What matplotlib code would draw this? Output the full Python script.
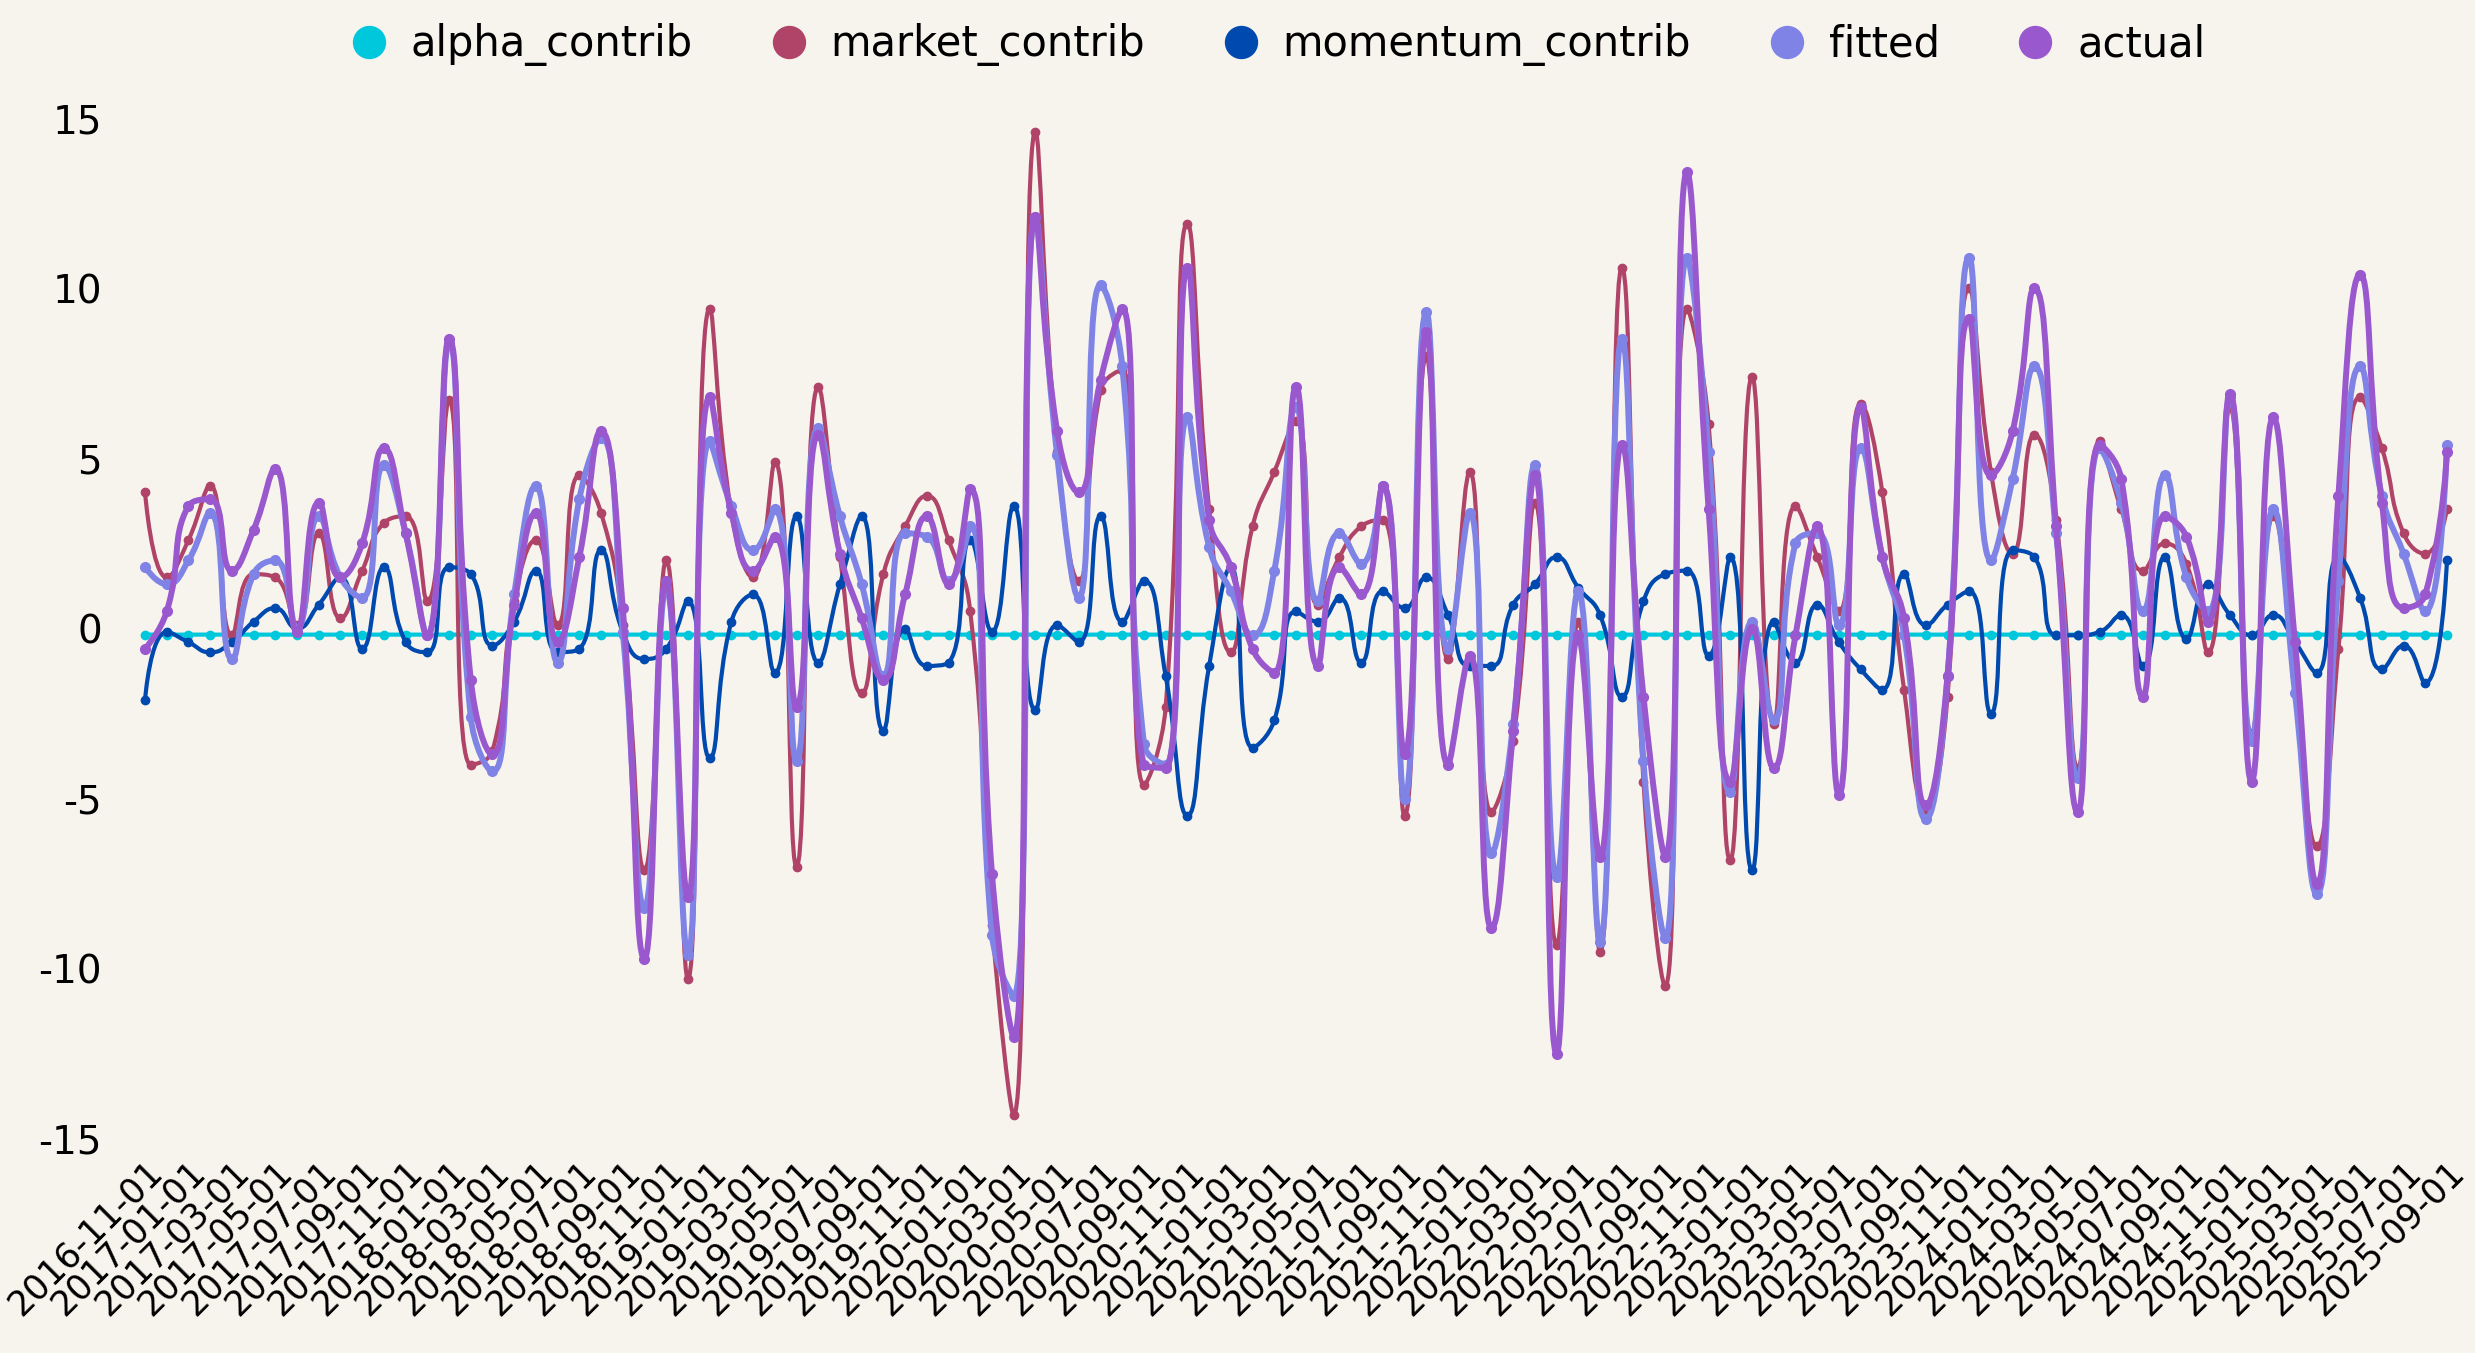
import numpy as np
import pandas as pd
import matplotlib
matplotlib.use('Agg')
import matplotlib.pyplot as plt
import matplotlib.transforms as mtransforms
from matplotlib.path import Path
from matplotlib.patches import PathPatch
from matplotlib.lines import Line2D

plt.rcParams['font.family'] = ['DejaVu Sans']
plt.rcParams['axes.unicode_minus'] = False

# monthly dates, 2016-11 .. 2025-09
dates = pd.date_range('2016-11-01', '2025-09-01', freq='MS').strftime('%Y-%m-%d').tolist()

alpha_contrib = [-0.18] * len(dates)

market_contrib = [
    4.0, 1.5, 2.6, 4.2, -0.2, 1.6, 1.5, 0.1, 2.8, 0.3,
    1.7, 3.1, 3.3, 0.8, 6.7, -4.0, -3.6, 0.8, 2.6, 0.1,
    4.5, 3.4, 0.1, -7.1, 2.0, -10.3, 9.4, 3.4, 1.5, 4.9,
    -7.0, 7.1, 2.1, -1.9, 1.6, 3.0, 3.9, 2.6, 0.5, -8.7,
    -14.3, 14.6, 5.2, 1.4, 7.0, 7.6, -4.6, -2.3, 11.9, 3.5,
    -0.7, 3.0, 4.6, 6.1, 0.7, 2.1, 3.0, 3.2, -5.5, 8.0,
    -0.9, 4.6, -5.4, -3.3, 3.7, -9.3, 0.2, -9.5, 10.6, -4.5,
    -10.5, 9.4, 6.0, -6.8, 7.4, -2.8, 3.6, 2.1, 0.5, 6.6,
    4.0, -1.8, -5.3, -2.0, 10.0, 4.6, 2.2, 5.7, 3.2, -4.1,
    5.5, 3.5, 1.7, 2.5, 1.9, -0.7, 6.5, -3.1, 3.3, -1.4,
    -6.4, -0.6, 6.8, 5.3, 2.8, 2.2, 3.5,
]

momentum_contrib = [
    -2.1, -0.1, -0.4, -0.7, -0.4, 0.2, 0.6, 0.0, 0.7, 1.5,
    -0.6, 1.8, -0.4, -0.7, 1.8, 1.6, -0.5, 0.2, 1.7, -0.7,
    -0.6, 2.3, -0.1, -0.9, -0.6, 0.8, -3.8, 0.2, 1.0, -1.3,
    3.3, -1.0, 1.3, 3.3, -3.0, 0.0, -1.1, -1.0, 2.6, -0.1,
    3.6, -2.4, 0.1, -0.4, 3.3, 0.2, 1.4, -1.4, -5.5, -1.1,
    1.8, -3.5, -2.7, 0.5, 0.2, 0.9, -1.0, 1.1, 0.6, 1.5,
    0.4, -1.1, -1.1, 0.7, 1.3, 2.1, 1.2, 0.4, -2.0, 0.8,
    1.6, 1.7, -0.8, 2.1, -7.1, 0.2, -1.0, 0.7, -0.4, -1.2,
    -1.8, 1.6, 0.1, 0.7, 1.1, -2.5, 2.3, 2.1, -0.2, -0.2,
    -0.1, 0.4, -1.1, 2.1, -0.3, 1.3, 0.4, -0.2, 0.4, -0.4,
    -1.3, 2.1, 0.9, -1.2, -0.5, -1.6, 2.0,
]

fitted = [
    1.8, 1.3, 2.0, 3.4, -0.9, 1.6, 2.0, 0.0, 3.3, 1.5,
    0.9, 4.8, 2.8, -0.2, 8.4, -2.6, -4.2, 1.0, 4.2, -1.0,
    3.8, 5.6, -0.1, -8.2, 1.2, -9.6, 5.5, 3.6, 2.3, 3.5,
    -3.9, 5.9, 3.3, 1.3, -1.4, 2.8, 2.7, 1.4, 3.0, -9.0,
    -10.8, 12.1, 5.1, 0.9, 10.1, 7.7, -3.4, -4.0, 6.2, 2.4,
    1.1, -0.2, 1.7, 6.5, 0.8, 2.8, 1.9, 4.2, -5.0, 9.3,
    -0.6, 3.4, -6.6, -2.8, 4.8, -7.3, 1.1, -9.2, 8.5, -3.9,
    -9.1, 10.9, 5.2, -4.8, 0.2, -2.7, 2.5, 2.8, 0.1, 5.3,
    2.1, -0.2, -5.6, -1.4, 10.9, 2.0, 4.4, 7.7, 2.8, -4.4,
    5.3, 3.7, 0.5, 4.5, 1.5, 0.5, 6.8, -3.3, 3.5, -1.9,
    -7.8, 1.4, 7.7, 3.9, 2.2, 0.5, 5.4,
]

actual = [
    -0.6, 0.5, 3.6, 3.8, 1.7, 2.9, 4.7, -0.1, 3.7, 1.5,
    2.5, 5.3, 2.8, -0.2, 8.5, -1.5, -3.7, 0.7, 3.4, -0.4,
    2.1, 5.8, 0.6, -9.7, 1.4, -7.9, 6.8, 3.4, 1.7, 2.7,
    -2.3, 5.7, 2.2, 0.3, -1.5, 1.0, 3.3, 1.3, 4.1, -7.2,
    -12.0, 12.1, 5.8, 4.0, 7.3, 9.4, -4.0, -4.1, 10.6, 3.2,
    1.8, -0.6, -1.3, 7.1, -1.1, 1.8, 1.0, 4.2, -3.7, 8.7,
    -4.0, -0.8, -8.8, -3.0, 4.5, -12.5, -0.2, -6.7, 5.4, -2.0,
    -6.7, 13.4, 3.5, -4.5, 0.0, -4.1, -0.2, 3.0, -4.9, 6.5,
    2.1, 0.3, -5.2, -1.4, 9.1, 4.5, 5.8, 10.0, 3.0, -5.4,
    5.4, 4.4, -2.0, 3.3, 2.7, 0.2, 6.9, -4.5, 6.2, -0.4,
    -7.5, 3.9, 10.4, 3.7, 0.6, 1.0, 5.2,
]

series_names = ['alpha_contrib', 'market_contrib', 'momentum_contrib', 'fitted', 'actual']
colors = ['#00c8dc', '#b04468', '#0049ae', '#8083e6', '#9a58cf']
widths = [3.0, 3.0, 3.0, 4.3, 4.3]
msizes = [6, 6, 6, 7, 7]

bg = '#f7f4ee'


def smooth_path(ax, xs, ys, smooth=0.5):
    # echarts-like bezier smoothing, worked out in pixel space
    pts = ax.transData.transform(np.column_stack([xs, ys]))
    n = len(pts)
    verts = [pts[0]]
    codes = [Path.MOVETO]
    cp0 = pts[0].copy()
    for i in range(1, n):
        x, y = pts[i]
        px, py = pts[i - 1]
        if i == n - 1:
            cp1 = np.array([x, y])
            nxt = None
        else:
            nx, ny = pts[i + 1]
            vx, vy = nx - px, ny - py
            lp = np.hypot(x - px, y - py)
            ln = np.hypot(nx - x, ny - y)
            r = ln / (ln + lp)
            ncx = x + vx * smooth * r
            ncy = y + vy * smooth * r
            ncx = min(max(ncx, min(nx, x)), max(nx, x))
            ncy = min(max(ncy, min(ny, y)), max(ny, y))
            vx, vy = ncx - x, ncy - y
            c1x = x - vx * lp / ln
            c1y = y - vy * lp / ln
            c1x = min(max(c1x, min(px, x)), max(px, x))
            c1y = min(max(c1y, min(py, y)), max(py, y))
            vx, vy = x - c1x, y - c1y
            ncx = x + vx * ln / lp
            ncy = y + vy * ln / lp
            cp1 = np.array([c1x, c1y])
            nxt = np.array([ncx, ncy])
        verts += [cp0, cp1, np.array([x, y])]
        codes += [Path.CURVE4] * 3
        cp0 = nxt
    verts = ax.transData.inverted().transform(np.array(verts))
    return Path(verts, codes)


fig = plt.figure(figsize=(24.75, 13.53), dpi=100, facecolor=bg)
ax = fig.add_axes([145 / 2475, 1 - 1139 / 1353, 2302 / 2475, 1021 / 1353])
ax.set_facecolor(bg)

x = np.arange(len(dates))
ax.set_xlim(0, len(dates) - 1)
ax.set_ylim(-15, 15)

data = [alpha_contrib, market_contrib, momentum_contrib, fitted, actual]
for k, (name, ys) in enumerate(zip(series_names, data)):
    p = smooth_path(ax, x, ys)
    ax.add_patch(PathPatch(p, facecolor='none', edgecolor=colors[k], lw=widths[k],
                           zorder=2 + k, clip_on=False, capstyle='round', joinstyle='round'))
    ax.plot(x, ys, 'o', color=colors[k], ms=msizes[k], mec=colors[k], zorder=2 + k, clip_on=False)

ax.set_yticks([-15, -10, -5, 0, 5, 10, 15])
ax.set_xticks(x[::2])
ax.set_xticklabels(dates[::2], rotation=45, ha='right', va='center', rotation_mode='anchor')
ax.tick_params(axis='x', length=0, pad=20, labelsize=25)
ax.tick_params(axis='y', length=0, pad=31, labelsize=28)
# nudge the rotated date labels a little to the right
shift = mtransforms.ScaledTranslation(0.12, 0, fig.dpi_scale_trans)
for lbl in ax.get_xticklabels():
    lbl.set_transform(lbl.get_transform() + shift)
for s in ax.spines.values():
    s.set_visible(False)

handles = [Line2D([], [], ls='none', marker='o', ms=23, color=c) for c in colors]
fig.legend(handles, series_names, loc='center', bbox_to_anchor=(0.515, 1 - 45 / 1353), ncol=5,
           frameon=False, fontsize=30, handlelength=1.2, handletextpad=0.4, columnspacing=1.7)

fig.savefig('out.png', dpi=100, facecolor=bg)
